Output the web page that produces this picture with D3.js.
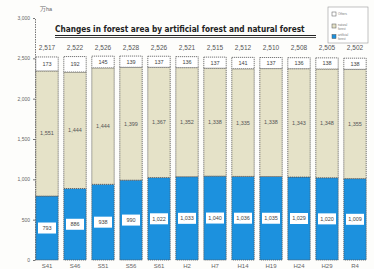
<!DOCTYPE html>
<html>
<head>
<meta charset="utf-8">
<script src="https://cdn.jsdelivr.net/npm/d3@7"></script>
<style>
  body { margin: 0; background: #fdfdfb; }
  svg { font-family: "Liberation Sans", Arial, sans-serif; }
</style>
</head>
<body>
<div class="chart-box"></div>
<script>
var years = ["S41", "S46", "S51", "S56", "S61", "H2", "H7", "H14", "H19", "H24", "H29", "R4"];
var artificial = [793, 886, 938, 990, 1022, 1033, 1040, 1036, 1035, 1029, 1020, 1009];
var natural = [1551, 1444, 1444, 1399, 1367, 1352, 1338, 1335, 1338, 1343, 1348, 1355];
var others = [173, 192, 145, 139, 137, 136, 137, 141, 137, 136, 138, 138];
var totals = [2517, 2522, 2526, 2528, 2526, 2521, 2515, 2512, 2510, 2508, 2505, 2502];
var y_ticks = [0, 500, 1000, 1500, 2000, 2500, 3000];
var series_names = ["artificial", "natural", "others"];
var legend_labels = [["Others"], ["natural", "forest"], ["artificial", "forest"]];

var colors = {artificial: "#1c91de", natural: "#e5e2c8", others: "#ffffff"};
var width = 374, height = 269;
var fmt = d3.format(",");

var svg = d3.select(".chart-box").append("svg")
    .attr("width", width)
    .attr("height", height);

var rows = years.map(function(y, i) {
  return {year: y, artificial: artificial[i], natural: natural[i], others: others[i], total: totals[i]};
});

var x = d3.scaleBand()
    .domain(years)
    .range([33, 369])
    .paddingInner(0.2)
    .paddingOuter(0.1);
var y = d3.scaleLinear()
    .domain([0, 3000])
    .range([260, 18]);

var stack = d3.stack().keys(series_names);
var layers = stack(rows);

// y axis
var yAxis = svg.append("g")
    .attr("transform", "translate(35,0)")
    .call(d3.axisLeft(y).tickValues(y_ticks).tickSize(2).tickFormat(fmt));
yAxis.select(".domain").attr("stroke", "#777").attr("stroke-dasharray", "1.5,1");
yAxis.selectAll(".tick line").attr("stroke", "#777");
yAxis.selectAll(".tick text").attr("font-size", 5).attr("fill", "#666").attr("x", -5);

// bars
svg.selectAll(".layer")
    .data(layers)
  .enter().append("g")
    .attr("class", "layer")
    .attr("fill", function(d) { return colors[d.key]; })
  .selectAll("rect")
    .data(function(d) { return d; })
  .enter().append("rect")
    .attr("x", function(d) { return x(d.data.year); })
    .attr("width", x.bandwidth())
    .attr("y", function(d) { return y(d[1]); })
    .attr("height", function(d) { return y(d[0]) - y(d[1]); })
    .attr("stroke", "#555")
    .attr("stroke-width", 0.8)
    .attr("stroke-dasharray", "1.2,0.8");

// artificial labels with white boxes
var art = svg.selectAll(".art-label")
    .data(rows)
  .enter().append("g")
    .attr("class", "art-label")
    .attr("transform", function(d) {
      return "translate(" + (x(d.year) + x.bandwidth() / 2) + "," + y(d.artificial / 2) + ")";
    });
art.append("rect")
    .attr("x", -9).attr("y", -5.5)
    .attr("width", 18).attr("height", 11)
    .attr("fill", "#fff");
art.append("text")
    .attr("text-anchor", "middle")
    .attr("dy", "0.35em")
    .attr("font-size", 5.5)
    .attr("fill", "#444")
    .text(function(d) { return fmt(d.artificial); });

// natural labels
svg.selectAll(".nat-label")
    .data(rows)
  .enter().append("text")
    .attr("class", "nat-label")
    .attr("x", function(d) { return x(d.year) + x.bandwidth() / 2; })
    .attr("y", function(d) { return y(d.artificial + d.natural / 2); })
    .attr("dy", "0.35em")
    .attr("text-anchor", "middle")
    .attr("font-size", 5.5)
    .attr("fill", "#555")
    .text(function(d) { return fmt(d.natural); });

// others labels
svg.selectAll(".oth-label")
    .data(rows)
  .enter().append("text")
    .attr("class", "oth-label")
    .attr("x", function(d) { return x(d.year) + x.bandwidth() / 2; })
    .attr("y", function(d) { return y(d.artificial + d.natural + d.others / 2); })
    .attr("dy", "0.35em")
    .attr("text-anchor", "middle")
    .attr("font-size", 5.5)
    .attr("fill", "#444")
    .text(function(d) { return fmt(d.others); });

// totals
svg.selectAll(".tot-label")
    .data(rows)
  .enter().append("text")
    .attr("class", "tot-label")
    .attr("x", function(d) { return x(d.year) + x.bandwidth() / 2; })
    .attr("y", 50)
    .attr("text-anchor", "middle")
    .attr("font-size", 6.5)
    .attr("fill", "#555")
    .text(function(d) { return fmt(d.total); });

// x labels
svg.selectAll(".x-label")
    .data(years)
  .enter().append("text")
    .attr("class", "x-label")
    .attr("x", function(d) { return x(d) + x.bandwidth() / 2; })
    .attr("y", 268)
    .attr("text-anchor", "middle")
    .attr("font-size", 6)
    .attr("fill", "#666")
    .text(function(d) { return d; });

// unit
svg.append("text")
    .attr("x", 40).attr("y", 11)
    .attr("font-size", 5.5)
    .attr("fill", "#666")
    .text("万ha");

// title, squeezed horizontally to fit the underline
var title = svg.append("text")
    .attr("x", 0).attr("y", 0)
    .attr("font-family", "DejaVu Sans")
    .attr("font-weight", "bold")
    .attr("font-size", 9)
    .attr("fill", "#222")
    .text("Changes in forest area  by  artificial forest and natural forest");
var title_len = title.node().getComputedTextLength();
title.attr("transform", "translate(55,32) scale(" + (250 / title_len) + ",1)");
svg.append("line").attr("x1", 55).attr("x2", 316).attr("y1", 35.5).attr("y2", 35.5)
    .attr("stroke", "#222").attr("stroke-width", 1);
svg.append("line").attr("x1", 55).attr("x2", 316).attr("y1", 37.5).attr("y2", 37.5)
    .attr("stroke", "#222").attr("stroke-width", 0.8);

// legend
var legend = svg.append("g").attr("transform", "translate(328,7)");
legend.append("rect")
    .attr("width", 40).attr("height", 36)
    .attr("fill", "#fff").attr("stroke", "#999").attr("stroke-width", 0.6);
var legend_keys = ["others", "natural", "artificial"];
var item = legend.selectAll(".leg")
    .data(legend_keys)
  .enter().append("g")
    .attr("class", "leg")
    .attr("transform", function(d, i) { return "translate(4," + (5 + i * 10.5) + ")"; });
item.append("rect")
    .attr("y", function(d, i) { return i ? 1.5 : 0; })
    .attr("width", 4).attr("height", 4)
    .attr("fill", function(d) { return colors[d]; })
    .attr("stroke", "#555").attr("stroke-width", 0.5);
item.each(function(d, i) {
  d3.select(this).selectAll("text")
      .data(legend_labels[i])
    .enter().append("text")
      .attr("x", 6)
      .attr("y", function(t, j) { return 3.2 + j * 4.2; })
      .attr("font-size", 3)
      .attr("fill", "#777")
      .text(function(t) { return t; });
});
</script>
</body>
</html>
